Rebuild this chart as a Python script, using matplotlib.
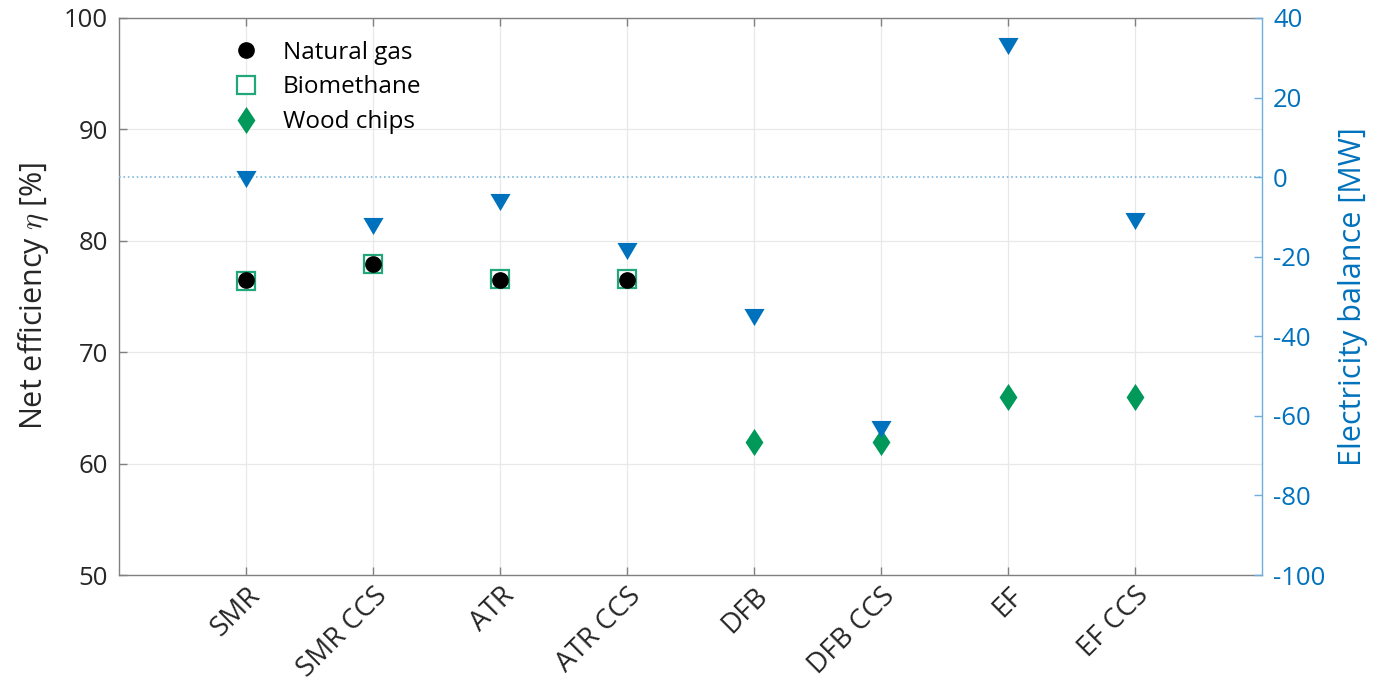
import numpy as np
import matplotlib
matplotlib.use("Agg")
import matplotlib.pyplot as plt
from matplotlib.lines import Line2D

plt.rcParams['font.family'] = ['Open Sans', 'DejaVu Sans']
plt.rcParams['mathtext.fontset'] = 'cm'
plt.rcParams['axes.unicode_minus'] = False

nan = np.nan
categories = ["SMR", "SMR CCS", "ATR", "ATR CCS", "DFB", "DFB CCS", "EF", "EF CCS"]
natural_gas = [76.5, 77.9, 76.5, 76.5, nan, nan, nan, nan]
biomethane = [76.4, 77.9, 76.6, 76.6, nan, nan, nan, nan]
wood_chips = [nan, nan, nan, nan, 61.9, 61.9, 66.0, 66.0]
electricity = [-0.5, -12.2, -6.3, -18.5, -35.1, -63.3, 33.0, -11.1]
eff_ticks = [50, 60, 70, 80, 90, 100]
elec_ticks = [-100, -80, -60, -40, -20, 0, 20, 40]

BLUE = '#0072BD'
GREEN_SQ = '#22A878'
GREEN_D = '#00995A'
AX_GRAY = '#808080'
TXT = '#262626'

# marker shapes: a tall diamond and a slightly flattened down-triangle
diamond = [(0, 1), (0.66, 0), (0, -1), (-0.66, 0), (0, 1)]
tri_down = [(-1, 0.85), (1, 0.85), (0, -0.85), (-1, 0.85)]

fig = plt.figure(figsize=(13.89, 6.86), dpi=100)
ax = fig.add_axes([0.0857, 0.1618, 0.8229, 0.812])
x = np.arange(1, len(categories) + 1)

ax.plot(x, biomethane, linestyle='none', marker='s', markersize=12.5,
        markerfacecolor='white', markeredgecolor=GREEN_SQ, markeredgewidth=1.6, zorder=3)
ax.plot(x, natural_gas, linestyle='none', marker='o', markersize=11,
        color='black', zorder=4)
ax.plot(x, wood_chips, linestyle='none', marker=diamond, markersize=19.5,
        color=GREEN_D, markeredgewidth=0, zorder=4)

ax.set_xlim(0, len(categories) + 1)
ax.set_ylim(50, 100)
ax.set_yticks(eff_ticks)
ax.set_xticks(x)
ax.set_xticklabels(categories, rotation=45, ha='right', va='top',
                   rotation_mode='anchor')
ax.grid(True, color='#E8E8E8', linewidth=0.9)
ax.set_axisbelow(True)
for side in ['left', 'top', 'bottom']:
    ax.spines[side].set_color(AX_GRAY)
    ax.spines[side].set_linewidth(1.0)
ax.spines['right'].set_visible(False)
ax.tick_params(axis='both', direction='in', length=6, width=1.0, color=AX_GRAY,
               labelsize=18.5, labelcolor=TXT, top=True)
ax.tick_params(axis='x', pad=5, labelsize=20)
ax.tick_params(axis='y', pad=8)
ax.set_ylabel(r'Net efficiency $\eta$ [%]', fontsize=22, color=TXT, labelpad=9)

ax2 = ax.twinx()
ax2.set_ylim(-100, 40)
ax2.set_yticks(elec_ticks)
ax2.axhline(0, color='#7FB6DE', linestyle=':', linewidth=1.2, zorder=1)
ax2.plot(x, electricity, linestyle='none', marker=tri_down, markersize=14.5,
         color=BLUE, markeredgewidth=0, zorder=5)
for side in ['left', 'top', 'bottom']:
    ax2.spines[side].set_visible(False)
ax2.spines['right'].set_color('#6FAEDC')
ax2.spines['right'].set_linewidth(1.0)
ax2.tick_params(axis='y', direction='in', length=6, width=1.0, color='#6FAEDC',
                labelsize=18.5, labelcolor=BLUE, pad=8)
ax2.set_ylabel('Electricity balance [MW]', fontsize=22, color=BLUE, labelpad=9)

handles = [
    Line2D([], [], linestyle='none', marker='o', markersize=11, color='black'),
    Line2D([], [], linestyle='none', marker='s', markersize=12.5, markerfacecolor='white',
           markeredgecolor=GREEN_SQ, markeredgewidth=1.6),
    Line2D([], [], linestyle='none', marker=diamond, markersize=19.5, color=GREEN_D,
           markeredgewidth=0),
]
ax2.legend(handles, ['Natural gas', 'Biomethane', 'Wood chips'], loc='upper left',
           bbox_to_anchor=(0.087, 0.99), frameon=False, fontsize=17.5,
           handlelength=0.85, handletextpad=1.1, labelspacing=0.45, borderpad=0.2)

fig.savefig('out.png', dpi=100)
